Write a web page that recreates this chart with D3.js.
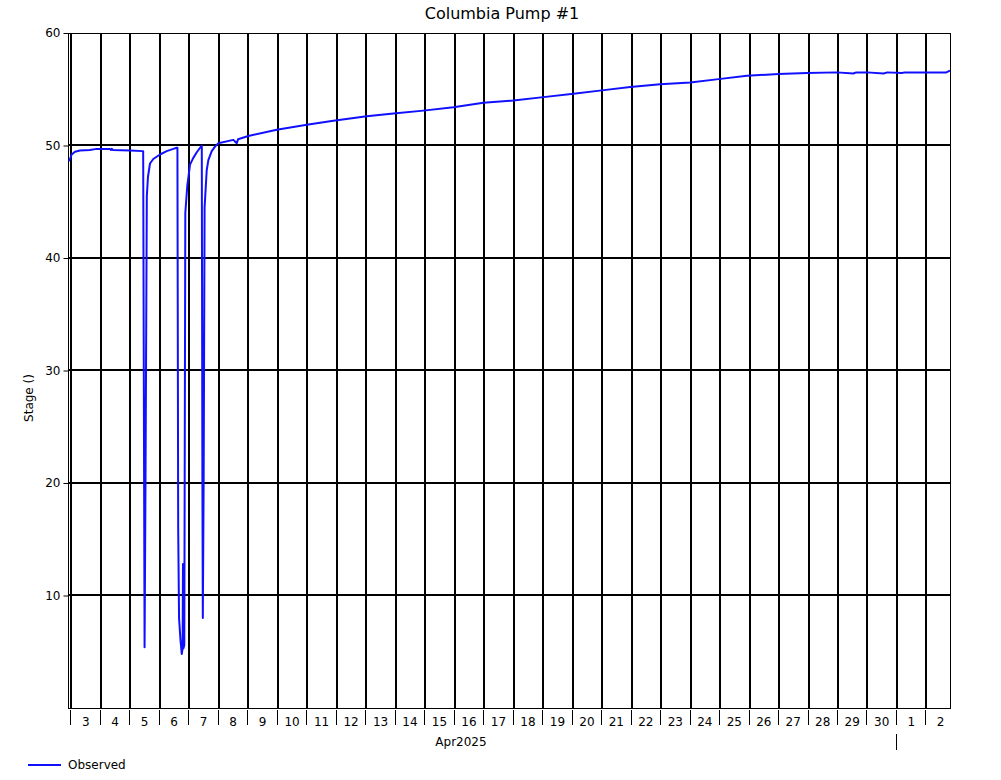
<!DOCTYPE html>
<html><head><meta charset="utf-8">
<script src="https://cdn.jsdelivr.net/npm/d3@7/dist/d3.min.js"></script>
<style>
html,body{margin:0;padding:0;background:#fff;}
text{font-family:"DejaVu Sans",sans-serif;fill:#000;}
</style></head>
<body>
<svg id="chart" width="1001" height="780"></svg>
<script>
const chartTitle = "Columbia Pump #1";
const yTitle = "Stage ()";
const monthLabel = "Apr2025";
const seriesName = "Observed";
const domainStart = "2025-04-02T22:00";
const domainEnd = "2025-05-02T20:00";
const yTicks = [10, 20, 30, 40, 50, 60];

const times = [
 "2025-04-02T22:50","2025-04-03T01:00","2025-04-03T03:40","2025-04-03T07:45","2025-04-03T15:50","2025-04-03T21:20",
 "2025-04-04T08:10","2025-04-04T09:00","2025-04-04T09:40","2025-04-04T10:35","2025-04-05T00:30","2025-04-05T10:50",
 "2025-04-05T11:12","2025-04-05T12:20","2025-04-05T13:05","2025-04-05T14:10","2025-04-05T15:05","2025-04-05T16:45",
 "2025-04-05T19:25","2025-04-06T00:55","2025-04-06T06:20","2025-04-06T11:45","2025-04-06T14:30","2025-04-06T15:05",
 "2025-04-06T15:42","2025-04-06T16:24","2025-04-06T17:36","2025-04-06T18:36","2025-04-06T19:18","2025-04-06T19:36",
 "2025-04-06T20:00","2025-04-06T20:40","2025-04-06T21:30","2025-04-06T23:06","2025-04-07T01:20","2025-04-07T04:00",
 "2025-04-07T06:50","2025-04-07T09:30","2025-04-07T10:55","2025-04-07T11:25","2025-04-07T11:45","2025-04-07T12:25",
 "2025-04-07T13:12","2025-04-07T14:55","2025-04-07T16:15","2025-04-07T19:00","2025-04-07T21:40","2025-04-08T00:25",
 "2025-04-08T12:35","2025-04-08T15:20","2025-04-08T16:25","2025-04-09T00:50","2025-04-09T23:55","2025-04-11T00:25",
 "2025-04-11T22:00","2025-04-13T01:10","2025-04-13T22:55","2025-04-14T23:20","2025-04-15T23:45","2025-04-17T00:10",
 "2025-04-18T00:35","2025-04-19T01:00","2025-04-20T01:30","2025-04-21T00:35","2025-04-21T23:40","2025-04-23T00:05",
 "2025-04-24T00:30","2025-04-24T23:35","2025-04-25T22:40","2025-04-27T00:25","2025-04-27T23:35","2025-04-29T00:00",
 "2025-04-29T13:20","2025-04-29T15:40","2025-04-30T00:25","2025-04-30T13:55","2025-04-30T17:00","2025-05-01T05:00",
 "2025-05-01T07:00","2025-05-01T22:30","2025-05-02T17:00","2025-05-02T20:00"
];
const stage = [
 48.6,49.2,49.45,49.55,49.6,49.7,
 49.7,49.6,49.7,49.6,49.55,49.5,
 49.5,5.4,20,45.5,47.2,48.4,
 48.8,49.2,49.5,49.7,49.8,49.8,
 16,8,6,4.8,5.3,12.8,
 5.3,5.6,44,46.4,48.3,48.9,
 49.4,49.8,50.0,20,8.0,20,
 44.5,47.8,48.7,49.5,49.9,50.2,
 50.5,50.2,50.55,50.85,51.4,51.85,
 52.2,52.6,52.85,53.1,53.4,53.8,
 54.0,54.3,54.6,54.9,55.2,55.45,
 55.6,55.9,56.2,56.35,56.45,56.5,
 56.4,56.5,56.5,56.4,56.5,56.45,
 56.5,56.5,56.5,56.65
];

const parse = d3.utcParse("%Y-%m-%dT%H:%M");
const data = times.map((t, i) => ({t: parse(t), v: stage[i]}));

const svg = d3.select("#chart");
const L = 68, R = 950, T = 33, B = 708;
const x = d3.scaleUtc().domain([parse(domainStart), parse(domainEnd)]).range([L, R]);
const y = d3.scaleLinear().domain([0, 60]).range([B, T]);

const days = d3.utcDay.range(d3.utcDay.ceil(x.domain()[0]), x.domain()[1]);
const noons = days.map(d => d3.utcHour.offset(d, 12)).filter(d => d <= x.domain()[1]);

// grid
const g = svg.append("g");
g.selectAll("line.vg").data(days).join("line")
  .attr("x1", d => Math.round(x(d)) + 1).attr("x2", d => Math.round(x(d)) + 1)
  .attr("y1", T).attr("y2", B).attr("stroke", "#000").attr("stroke-width", 2);
g.selectAll("line.hg").data(yTicks.filter(v => v < 60)).join("line")
  .attr("x1", L).attr("x2", R).attr("y1", d => Math.floor(y(d))).attr("y2", d => Math.floor(y(d)))
  .attr("stroke", "#000").attr("stroke-width", 2);

// frame
svg.append("rect").attr("x", L + 0.5).attr("y", T + 0.5).attr("width", R - L).attr("height", B - T)
  .attr("fill", "none").attr("stroke", "#000").attr("stroke-width", 1);

// y axis
const yAxis = d3.axisLeft(y).tickValues(yTicks).tickSize(5).tickPadding(3);
const ya = svg.append("g").attr("transform", `translate(${L + 0.5},0)`).call(yAxis);
ya.select(".domain").remove();
ya.selectAll("text").style("font-size", "12px").style("font-family", "DejaVu Sans");
ya.selectAll("line").attr("stroke", "#000");

// x axis ticks (day boundaries)
svg.append("g").selectAll("line").data(days).join("line")
  .attr("x1", d => Math.round(x(d)) + 0.5).attr("x2", d => Math.round(x(d)) + 0.5)
  .attr("y1", B + 2).attr("y2", B + 17).attr("stroke", "#000").attr("stroke-width", 1);
const xAxis = d3.axisBottom(x).tickValues(noons).tickFormat(d3.utcFormat("%-d")).tickSize(0).tickPadding(9);
const xa = svg.append("g").attr("transform", `translate(0,${B})`).call(xAxis);
xa.select(".domain").remove();
xa.selectAll("text").style("font-size", "12px").style("font-family", "DejaVu Sans");

// month marker
const monthStarts = days.filter(d => d.getUTCDate() === 1);
svg.append("g").selectAll("line").data(monthStarts).join("line")
  .attr("x1", d => Math.round(x(d)) + 0.5).attr("x2", d => Math.round(x(d)) + 0.5)
  .attr("y1", 734).attr("y2", 750).attr("stroke", "#000");
svg.append("text").attr("x", 461).attr("y", 746).attr("text-anchor", "middle")
  .style("font-size", "12px").text(monthLabel);

// line
svg.append("path").datum(data)
  .attr("fill", "none").attr("stroke", "#1010ff").attr("stroke-width", 2)
  .attr("stroke-linejoin", "round")
  .attr("d", d3.line().x(d => x(d.t)).y(d => y(d.v)));

// title
svg.append("text").attr("x", 502).attr("y", 19).attr("text-anchor", "middle")
  .style("font-size", "16px").text(chartTitle);
svg.append("text").attr("transform", "translate(33,398) rotate(-90)").attr("text-anchor", "middle")
  .style("font-size", "12px").text(yTitle);

// legend
svg.append("line").attr("x1", 28).attr("x2", 61).attr("y1", 765).attr("y2", 765)
  .attr("stroke", "#1010ff").attr("stroke-width", 2);
svg.append("text").attr("x", 68).attr("y", 769).style("font-size", "12px").text(seriesName);
</script>
</body></html>
